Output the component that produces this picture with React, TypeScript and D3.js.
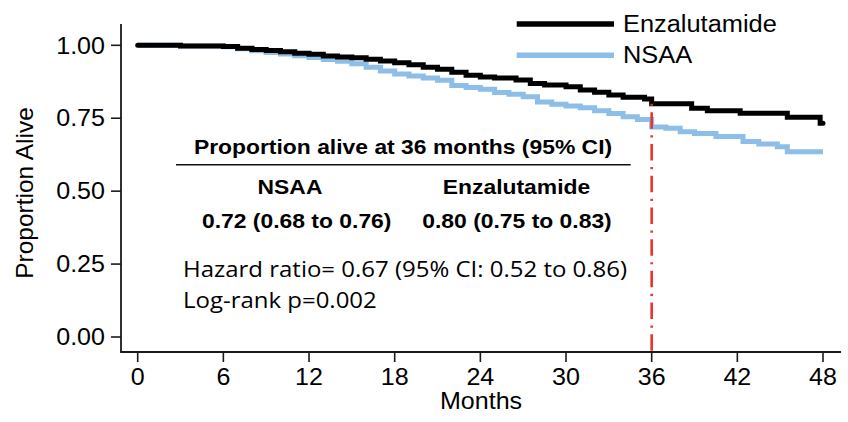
import React from "react";
import * as d3 from "d3";

// Kaplan–Meier step data: [month, proportion alive]
const enzalutamide: [number, number][] = [
  [0, 1.0], [3, 0.998], [6, 0.996], [7, 0.99], [8, 0.986], [9, 0.982], [10, 0.978],
  [11, 0.973], [12, 0.969], [13, 0.963], [14, 0.96], [15, 0.957], [16, 0.952],
  [17, 0.946], [18, 0.94], [19, 0.933], [20, 0.925], [21, 0.918], [22, 0.908],
  [23, 0.897], [24, 0.891], [25, 0.888], [26.5, 0.881], [27.5, 0.869], [28.5, 0.864],
  [30, 0.858], [31, 0.847], [32, 0.839], [33, 0.83], [34, 0.822], [35.5, 0.816],
  [36, 0.8], [38.8, 0.784], [39.9, 0.776], [42.2, 0.767], [45.5, 0.753],
  [47.8, 0.733], [48, 0.733],
];

const nsaa: [number, number][] = [
  [0, 1.0], [3, 0.998], [6, 0.995], [7, 0.988], [8, 0.981], [9, 0.975], [10, 0.97],
  [11, 0.964], [12, 0.958], [13, 0.951], [14, 0.945], [15, 0.937], [16, 0.925],
  [17, 0.912], [18, 0.902], [19, 0.895], [20, 0.888], [21, 0.88], [22, 0.862],
  [23, 0.855], [24, 0.849], [25, 0.838], [26, 0.832], [27, 0.824], [28, 0.806],
  [29, 0.798], [30, 0.792], [31, 0.786], [32, 0.776], [33, 0.766], [34, 0.755],
  [35, 0.746], [36, 0.72], [37, 0.716], [38, 0.704], [39, 0.698], [40.5, 0.687],
  [42.4, 0.67], [43.5, 0.662], [44.8, 0.652], [45.5, 0.635], [48, 0.635],
];

const xTicks = [0, 6, 12, 18, 24, 30, 36, 42, 48];
const yTicks = [0, 0.25, 0.5, 0.75, 1.0];
const landmarkMonth = 36;

const seriesNames = ["Enzalutamide", "NSAA"];
const summaryTitle = "Proportion alive at 36 months (95% CI)";
const summaryValues = ["0.72 (0.68 to 0.76)", "0.80 (0.75 to 0.83)"];
const statLines = ["Hazard ratio= 0.67 (95% CI: 0.52 to 0.86)", "Log-rank p=0.002"];

const W = 848;
const H = 422;
const SX = 1.09; // horizontal glyph stretch
const ARIAL = "'Liberation Sans', Arial, Helvetica, sans-serif";
const OPEN = "'Open Sans', 'Noto Sans', sans-serif";
const BLACK = "#000000";
const BLUE = "#8dbee8";
const RED = "#e8342c";
const AXIS = "#1a1a1a";

function SText(props: {
  x: number;
  y: number;
  anchor?: "start" | "middle" | "end";
  size: number;
  weight?: number | string;
  family?: string;
  children: React.ReactNode;
}) {
  const { x, y, anchor = "start", size, weight = 400, family = ARIAL, children } = props;
  return (
    <g transform={`translate(${x},${y}) scale(${SX},1)`}>
      <text
        x={0}
        y={0}
        textAnchor={anchor}
        fontSize={size}
        fontWeight={weight}
        fontFamily={family}
        fill="#000"
      >
        {children}
      </text>
    </g>
  );
}

export default function App() {
  const x = d3.scaleLinear().domain([0, 48]).range([137.7, 823]);
  const y = d3.scaleLinear().domain([0, 1]).range([337, 45.3]);

  const axisLeft = 121;
  const axisBottom = 352;
  const axisTop = 24;
  const axisRight = 841;

  const line = d3
    .line<[number, number]>()
    .x((d) => x(d[0]))
    .y((d) => y(d[1]))
    .curve(d3.curveStepAfter);

  const enzAt36 = enzalutamide.filter((d) => d[0] <= landmarkMonth).slice(-1)[0][1];

  return (
    <svg
      width={W}
      height={H}
      viewBox={`0 0 ${W} ${H}`}
      style={{ position: "absolute", left: 0, top: 0, background: "#fff" }}
    >
      <rect x={0} y={0} width={W} height={H} fill="#fff" />

      {/* axes */}
      <line x1={axisLeft} y1={axisTop} x2={axisLeft} y2={axisBottom} stroke={AXIS} strokeWidth={1.8} />
      <line x1={axisLeft - 0.9} y1={axisBottom} x2={axisRight} y2={axisBottom} stroke={AXIS} strokeWidth={1.8} />

      {yTicks.map((t) => (
        <g key={`y${t}`}>
          <line x1={axisLeft - 10} x2={axisLeft} y1={y(t)} y2={y(t)} stroke={AXIS} strokeWidth={1.6} />
          <SText x={axisLeft - 16} y={y(t) + 8.2} anchor="end" size={23}>
            {d3.format(".2f")(t)}
          </SText>
        </g>
      ))}

      {xTicks.map((t) => (
        <g key={`x${t}`}>
          <line x1={x(t)} x2={x(t)} y1={axisBottom} y2={axisBottom + 10} stroke={AXIS} strokeWidth={1.6} />
          <SText x={x(t)} y={384.5} anchor="middle" size={23}>
            {t}
          </SText>
        </g>
      ))}

      <SText x={(axisLeft + axisRight) / 2} y={409} anchor="middle" size={23}>
        Months
      </SText>

      <text
        transform={`translate(33,193) rotate(-90)`}
        textAnchor="middle"
        fontSize={24.5}
        fontFamily={ARIAL}
        fill="#000"
      >
        Proportion Alive
      </text>

      {/* survival curves */}
      <path d={line(nsaa) ?? ""} fill="none" stroke={BLUE} strokeWidth={5} strokeLinejoin="miter" />
      <path
        d={line(enzalutamide) ?? ""}
        fill="none"
        stroke={BLACK}
        strokeWidth={5}
        strokeLinejoin="miter"
        strokeLinecap="round"
      />

      {/* 36-month landmark */}
      <line
        x1={x(landmarkMonth)}
        x2={x(landmarkMonth)}
        y1={y(enzAt36)}
        y2={axisBottom}
        stroke={RED}
        strokeWidth={2.6}
        strokeDasharray="2.2,6.5,16.5,6.5"
      />

      {/* legend */}
      <line x1={516.7} x2={614} y1={24} y2={24} stroke={BLACK} strokeWidth={5.5} />
      <SText x={623} y={32.3} size={23.3}>{seriesNames[0]}</SText>
      <line x1={516.7} x2={614} y1={55.3} y2={55.3} stroke={BLUE} strokeWidth={5.5} />
      <SText x={623} y={63.3} size={23.3}>{seriesNames[1]}</SText>

      {/* summary table */}
      <SText x={403} y={153.7} anchor="middle" size={21} weight={700}>
        {summaryTitle}
      </SText>
      <line x1={176} x2={630.7} y1={164.7} y2={164.7} stroke="#111" strokeWidth={1.4} />
      <SText x={290} y={193.7} anchor="middle" size={21} weight={700}>
        {seriesNames[1]}
      </SText>
      <SText x={516.5} y={193.7} anchor="middle" size={21} weight={700}>
        {seriesNames[0]}
      </SText>
      <SText x={296.7} y={228.3} anchor="middle" size={21} weight={700}>
        {summaryValues[0]}
      </SText>
      <SText x={517} y={228.3} anchor="middle" size={21} weight={700}>
        {summaryValues[1]}
      </SText>

      <SText x={183} y={276.7} size={22} family={OPEN}>
        {statLines[0]}
      </SText>
      <SText x={183} y={307.7} size={22} family={OPEN}>
        {statLines[1]}
      </SText>
    </svg>
  );
}
